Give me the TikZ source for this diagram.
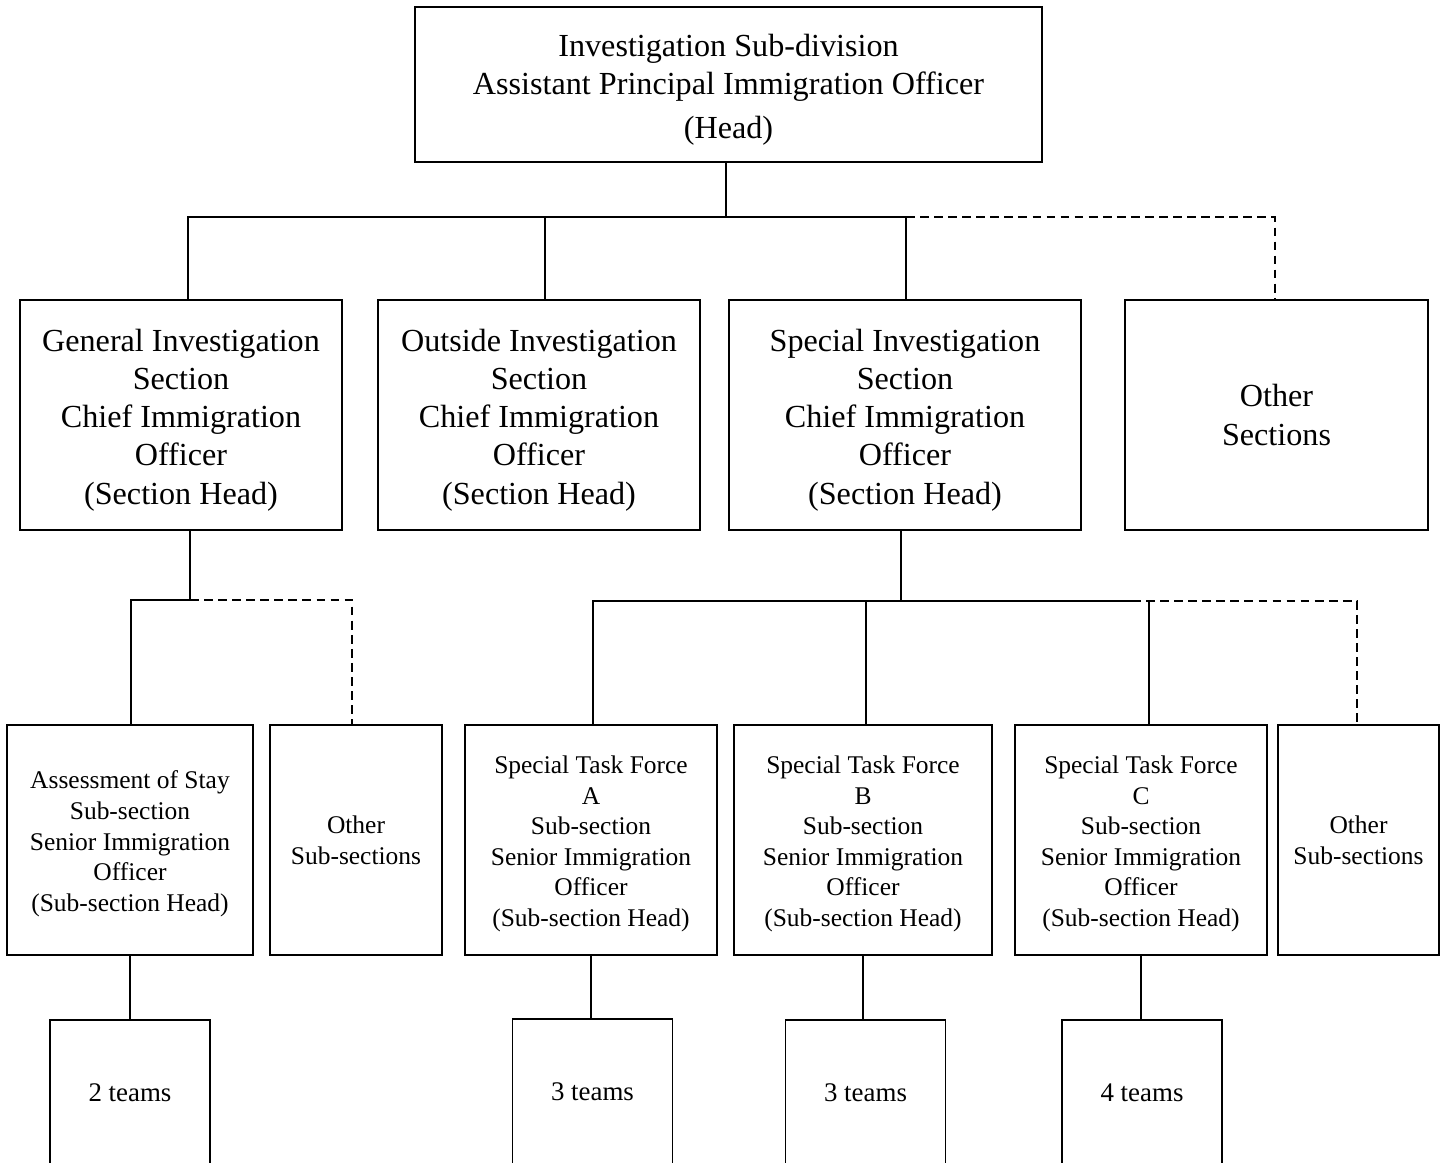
\documentclass[tikz,border=0pt]{standalone}
\usepackage{fontspec}
\setmainfont{Liberation Serif}
\newcommand{\lvlone}{\fontsize{18.3}{21.8}\selectfont}
\newcommand{\lvltwo}{\fontsize{14.5}{17.4}\selectfont}
\newcommand{\lvlteam}{\fontsize{15.3}{18}\selectfont}
\newcommand{\topstrut}{\rule{0pt}{1em}}
\begin{document}
\begin{tikzpicture}
			[x=0.02cm, y=-0.02cm,
			box/.style={rectangle, draw, line width=1pt, align=center, inner sep=0pt},
			section/.style={box, minimum height=4.6cm, font=\lvlone},
			subsection/.style={box, minimum height=4.6cm, font=\lvltwo},
			team/.style={box, minimum width=3.2cm, minimum height=2.92cm, font=\lvlteam},
			link/.style={line width=1.5pt},
			dotlink/.style={line width=1pt, dash pattern=on 5pt off 3pt}]
			\useasboundingbox (0,0) rectangle (1449,1162);
			\clip (0,0) rectangle (1449,1162);
			% head
			\node[box, minimum width=12.54cm, minimum height=3.1cm, font=\lvlone] (head) at (728.5,84.5)
				{\topstrut Investigation Sub-division\\Assistant Principal Immigration Officer\\[3pt](Head)};
			% sections
			\node[section, minimum width=6.44cm] (gis) at (181,415)
				{\topstrut General Investigation\\Section\\Chief Immigration\\Officer\\(Section Head)};
			\node[section, minimum width=6.44cm] (ois) at (539,415)
				{\topstrut Outside Investigation\\Section\\Chief Immigration\\Officer\\(Section Head)};
			\node[section, minimum width=7.04cm] (sis) at (905,415)
				{\topstrut Special Investigation\\Section\\Chief Immigration\\Officer\\(Section Head)};
			\node[section, minimum width=6.06cm] (oth) at (1276.5,415)
				{Other\\Sections};
			% sub-sections
			\node[subsection, minimum width=4.92cm] (aos) at (130,840)
				{\topstrut Assessment of Stay\\Sub-section\\Senior Immigration\\Officer\\(Sub-section Head)};
			\node[subsection, minimum width=3.44cm] (osub) at (356,840)
				{Other\\Sub-sections};
			\node[subsection, minimum width=5.04cm] (stfa) at (591,840)
				{\topstrut Special Task Force\\A\\Sub-section\\Senior Immigration\\Officer\\(Sub-section Head)};
			\node[subsection, minimum width=5.16cm] (stfb) at (863,840)
				{\topstrut Special Task Force\\B\\Sub-section\\Senior Immigration\\Officer\\(Sub-section Head)};
			\node[subsection, minimum width=5.04cm] (stfc) at (1141,840)
				{\topstrut Special Task Force\\C\\Sub-section\\Senior Immigration\\Officer\\(Sub-section Head)};
			\node[subsection, minimum width=3.22cm] (osubb) at (1358.5,840)
				{Other\\Sub-sections};
			% teams
			\node[team] (tms) at (130,1093) {2 teams};
			\node[team] (tma) at (592.5,1092) {3 teams};
			\node[team] (tmb) at (865.5,1093) {3 teams};
			\node[team] (tmc) at (1142,1093) {4 teams};
			% head to sections
			\coordinate (b0) at (726,217);
			\coordinate (b1) at (188,217);
			\coordinate (b2) at (545,217);
			\coordinate (b3) at (906,217);
			\coordinate (b4) at (1275,217);
			\draw[link] (b0 |- head.south) -- (b0);
			\draw[link] (b1 |- gis.north) -- (b1) -- (b3) -- (b3 |- sis.north);
			\draw[link] (b2) -- (b2 |- ois.north);
			\draw[dotlink] (b3) -- (b4) -- (b4 |- oth.north);
			% general investigation to sub-sections
			\coordinate (g0) at (190,600);
			\coordinate (g1) at (131,600);
			\coordinate (g2) at (352,600);
			\draw[link] (g0 |- gis.south) -- (g0) -- (g1) -- (g1 |- aos.north);
			\draw[dotlink] (g0) -- (g2) -- (g2 |- osub.north);
			% special investigation to sub-sections
			\coordinate (s0) at (901,601);
			\coordinate (s1) at (593,601);
			\coordinate (s2) at (866,601);
			\coordinate (s3) at (1132,601);
			\coordinate (s4) at (1149,601);
			\coordinate (s5) at (1357,601);
			\draw[link] (s0 |- sis.south) -- (s0);
			\draw[link] (s1 |- stfa.north) -- (s1) -- (s3);
			\draw[link] (s2) -- (s2 |- stfb.north);
			\draw[link] (s4) -- (s4 |- stfc.north);
			\draw[dotlink] (s3) -- (s5) -- (s5 |- osubb.north);
			% sub-sections to teams
			\draw[link] (aos.south) -- (aos.south |- tms.north);
			\draw[link] (stfa.south) -- (stfa.south |- tma.north);
			\draw[link] (stfb.south) -- (stfb.south |- tmb.north);
			\draw[link] (stfc.south) -- (stfc.south |- tmc.north);
		\end{tikzpicture}
\end{document}
